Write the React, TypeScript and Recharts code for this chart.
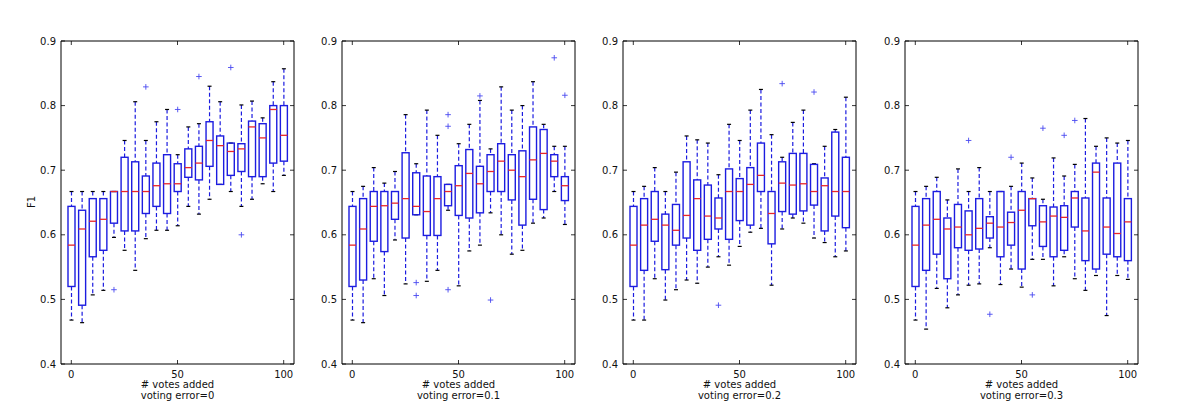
import { ComposedChart, Bar, XAxis, YAxis } from "recharts";

// x positions: number of votes added
const positions = [0, 5, 10, 15, 20, 25, 30, 35, 40, 45, 50, 55, 60, 65, 70, 75, 80, 85, 90, 95, 100];
const yTicks = [0.4, 0.5, 0.6, 0.7, 0.8, 0.9];
const errorLabels = ["voting error=0", "voting error=0.1", "voting error=0.2", "voting error=0.3"];

// voting error = 0
const high0 = [0.667, 0.667, 0.667, 0.667, 0.667, 0.746, 0.806, 0.746, 0.775, 0.794, 0.724, 0.767, 0.772, 0.83, 0.806, 0.742, 0.801, 0.807, 0.781, 0.837, 0.857];
const q3_0 = [0.644, 0.638, 0.656, 0.656, 0.667, 0.72, 0.713, 0.691, 0.711, 0.724, 0.71, 0.733, 0.737, 0.775, 0.753, 0.742, 0.741, 0.776, 0.772, 0.8, 0.8];
const med0 = [0.584, 0.609, 0.621, 0.624, 0.667, 0.667, 0.667, 0.667, 0.676, 0.679, 0.679, 0.704, 0.711, 0.746, 0.738, 0.729, 0.733, 0.767, 0.75, 0.794, 0.754];
const q1_0 = [0.52, 0.491, 0.566, 0.576, 0.618, 0.606, 0.606, 0.633, 0.644, 0.633, 0.667, 0.689, 0.685, 0.706, 0.678, 0.692, 0.698, 0.69, 0.69, 0.711, 0.714];
const low0 = [0.468, 0.464, 0.507, 0.514, 0.596, 0.576, 0.545, 0.594, 0.607, 0.607, 0.614, 0.644, 0.632, 0.655, 0.678, 0.667, 0.644, 0.655, 0.679, 0.667, 0.692];
const out0 = [[20, 0.515], [35, 0.829], [50, 0.794], [60, 0.845], [75, 0.859], [80, 0.6]];

// voting error = 0.1
const high1 = [0.667, 0.675, 0.704, 0.68, 0.698, 0.786, 0.71, 0.793, 0.754, 0.678, 0.741, 0.771, 0.808, 0.733, 0.829, 0.793, 0.8, 0.837, 0.771, 0.737, 0.737];
const q3_1 = [0.644, 0.656, 0.667, 0.667, 0.667, 0.727, 0.696, 0.691, 0.69, 0.678, 0.707, 0.732, 0.706, 0.724, 0.741, 0.724, 0.73, 0.767, 0.763, 0.724, 0.69];
const med1 = [0.584, 0.609, 0.644, 0.645, 0.649, 0.656, 0.644, 0.636, 0.656, 0.667, 0.676, 0.695, 0.679, 0.698, 0.714, 0.7, 0.69, 0.716, 0.726, 0.714, 0.676];
const q1_1 = [0.52, 0.53, 0.59, 0.574, 0.624, 0.595, 0.631, 0.599, 0.599, 0.645, 0.63, 0.626, 0.634, 0.667, 0.667, 0.654, 0.615, 0.655, 0.639, 0.69, 0.653];
const low1 = [0.468, 0.464, 0.532, 0.506, 0.592, 0.524, 0.631, 0.528, 0.545, 0.638, 0.521, 0.575, 0.584, 0.634, 0.6, 0.57, 0.576, 0.618, 0.626, 0.667, 0.616];
const out1 = [[30, 0.526], [30, 0.506], [45, 0.786], [45, 0.768], [45, 0.515], [60, 0.815], [65, 0.499], [95, 0.874], [100, 0.816]];

// voting error = 0.2
const high2 = [0.667, 0.675, 0.704, 0.667, 0.697, 0.753, 0.747, 0.742, 0.693, 0.771, 0.746, 0.793, 0.825, 0.755, 0.72, 0.774, 0.793, 0.71, 0.737, 0.763, 0.813];
const q3_2 = [0.644, 0.656, 0.667, 0.632, 0.647, 0.713, 0.685, 0.677, 0.657, 0.702, 0.687, 0.704, 0.742, 0.667, 0.713, 0.726, 0.726, 0.709, 0.688, 0.759, 0.72];
const med2 = [0.584, 0.615, 0.624, 0.615, 0.607, 0.63, 0.656, 0.629, 0.626, 0.667, 0.667, 0.678, 0.692, 0.633, 0.68, 0.677, 0.679, 0.667, 0.676, 0.667, 0.667];
const q1_2 = [0.52, 0.545, 0.59, 0.546, 0.584, 0.595, 0.576, 0.593, 0.609, 0.593, 0.622, 0.615, 0.667, 0.586, 0.636, 0.632, 0.637, 0.646, 0.606, 0.629, 0.611];
const low2 = [0.468, 0.468, 0.532, 0.499, 0.515, 0.53, 0.525, 0.55, 0.566, 0.553, 0.582, 0.604, 0.61, 0.522, 0.609, 0.626, 0.618, 0.595, 0.588, 0.566, 0.575];
const out2 = [[40, 0.491], [70, 0.834], [85, 0.821]];

// voting error = 0.3
const high3 = [0.667, 0.675, 0.689, 0.654, 0.702, 0.667, 0.704, 0.667, 0.667, 0.675, 0.711, 0.688, 0.655, 0.719, 0.691, 0.709, 0.78, 0.737, 0.75, 0.742, 0.746];
const q3_3 = [0.644, 0.656, 0.667, 0.626, 0.647, 0.637, 0.656, 0.628, 0.667, 0.635, 0.667, 0.656, 0.645, 0.643, 0.645, 0.667, 0.657, 0.711, 0.657, 0.711, 0.656];
const med3 = [0.584, 0.615, 0.624, 0.609, 0.612, 0.6, 0.61, 0.618, 0.612, 0.619, 0.638, 0.656, 0.62, 0.629, 0.627, 0.657, 0.606, 0.697, 0.612, 0.602, 0.62];
const q1_3 = [0.52, 0.545, 0.57, 0.532, 0.58, 0.576, 0.578, 0.595, 0.566, 0.584, 0.547, 0.614, 0.582, 0.566, 0.576, 0.612, 0.56, 0.547, 0.57, 0.566, 0.56];
const low3 = [0.468, 0.454, 0.517, 0.487, 0.507, 0.522, 0.524, 0.58, 0.523, 0.547, 0.519, 0.562, 0.562, 0.521, 0.566, 0.532, 0.514, 0.537, 0.475, 0.537, 0.531];
const out3 = [[25, 0.746], [35, 0.477], [45, 0.72], [55, 0.507], [60, 0.765], [70, 0.754], [75, 0.777]];

const series = [
  { high: high0, q3: q3_0, med: med0, q1: q1_0, low: low0, out: out0 },
  { high: high1, q3: q3_1, med: med1, q1: q1_1, low: low1, out: out1 },
  { high: high2, q3: q3_2, med: med2, q1: q1_2, low: low2, out: out2 },
  { high: high3, q3: q3_3, med: med3, q1: q1_3, low: low3, out: out3 },
];

const panelLeft = [61, 342, 623, 905];
const FONT = "DejaVu Sans, sans-serif";
const BLUE = "#1c1ce0";

type Row = {
  pos: number;
  low: number;
  q1: number;
  med: number;
  q3: number;
  high: number;
  range: [number, number];
  out: number[];
};

function buildRows(s: (typeof series)[number]): Row[] {
  return positions.map((pos, i) => ({
    pos,
    low: s.low[i],
    q1: s.q1[i],
    med: s.med[i],
    q3: s.q3[i],
    high: s.high[i],
    range: [s.low[i], s.high[i]],
    out: s.out.filter((o) => o[0] === pos).map((o) => o[1]),
  }));
}

function BoxShape(props: any) {
  const { x, y, width, height, payload } = props;
  if (!payload || height == null) return <g />;
  const top = Math.min(y, y + height);
  const h = Math.abs(height);
  const span = payload.high - payload.low;
  // linear map between the pixel ends the bar scale gave for [low, high]
  const py = (v: number) => top + ((payload.high - v) / span) * h;
  const cx = x + width / 2;
  const cap = width / 3.5;
  return (
    <g>
      <line x1={cx} x2={cx} y1={py(payload.high)} y2={py(payload.q3)} stroke={BLUE} strokeWidth={1.2} strokeDasharray="4 2.5" />
      <line x1={cx} x2={cx} y1={py(payload.q1)} y2={py(payload.low)} stroke={BLUE} strokeWidth={1.2} strokeDasharray="4 2.5" />
      <line x1={cx - cap} x2={cx + cap} y1={py(payload.high)} y2={py(payload.high)} stroke="#000" strokeWidth={1.2} />
      <line x1={cx - cap} x2={cx + cap} y1={py(payload.low)} y2={py(payload.low)} stroke="#000" strokeWidth={1.2} />
      <rect x={x} y={py(payload.q3)} width={width} height={py(payload.q1) - py(payload.q3)} fill="none" stroke={BLUE} strokeWidth={1.4} />
      <line x1={x} x2={x + width} y1={py(payload.med)} y2={py(payload.med)} stroke="#e8262a" strokeWidth={1.3} />
      {payload.out.map((v: number, k: number) => (
        <g key={k} stroke="#4a4af0" strokeWidth={0.9}>
          <line x1={cx - 2.8} x2={cx + 2.8} y1={py(v)} y2={py(v)} />
          <line x1={cx} x2={cx} y1={py(v) - 2.8} y2={py(v) + 2.8} />
        </g>
      ))}
    </g>
  );
}

function BottomTick({ x, y, payload }: any) {
  return (
    <g>
      <line x1={x} x2={x} y1={y} y2={y - 4} stroke="#000" strokeWidth={0.8} />
      <text x={x} y={y + 13.5} textAnchor="middle" fontSize={10} fontFamily={FONT} fill="#111">
        {payload.value}
      </text>
    </g>
  );
}

function TopTick({ x, y }: any) {
  return <line x1={x} x2={x} y1={y} y2={y + 4} stroke="#000" strokeWidth={0.8} />;
}

function LeftTick({ x, y, payload }: any) {
  return (
    <g>
      <line x1={x} x2={x + 4} y1={y} y2={y} stroke="#000" strokeWidth={0.8} />
      <text x={x - 5} y={y + 3.6} textAnchor="end" fontSize={10} fontFamily={FONT} fill="#111">
        {Number(payload.value).toFixed(1)}
      </text>
    </g>
  );
}

function RightTick({ x, y }: any) {
  return <line x1={x} x2={x - 4} y1={y} y2={y} stroke="#000" strokeWidth={0.8} />;
}

function Panel({ rows }: { rows: Row[] }) {
  const axisProps = {
    axisLine: { stroke: "#000", strokeWidth: 1 },
    tickLine: false,
    tickSize: 0,
    tickMargin: 0,
  };
  return (
    <ComposedChart width={279} height={405} data={rows} margin={{ top: 40, right: 5, bottom: 0, left: 0 }}>
      <XAxis dataKey="pos" type="category" interval={9} height={41} padding={{ left: 5, right: 5 }} tick={<BottomTick />} {...axisProps} />
      <XAxis xAxisId="top" dataKey="pos" type="category" orientation="top" interval={9} height={1} padding={{ left: 5, right: 5 }} tick={<TopTick />} {...axisProps} />
      <YAxis type="number" domain={[0.4, 0.9]} ticks={yTicks} allowDataOverflow width={40} tick={<LeftTick />} {...axisProps} />
      <YAxis yAxisId="right" orientation="right" type="number" domain={[0.4, 0.9]} ticks={yTicks} allowDataOverflow width={1} tick={<RightTick />} {...axisProps} />
      <Bar dataKey="range" barSize={7} shape={BoxShape} isAnimationActive={false} />
    </ComposedChart>
  );
}

export default function App() {
  return (
    <div style={{ position: "absolute", left: 0, top: 0, width: 1200, height: 405, background: "#fff" }}>
      {series.map((s, i) => (
        <div key={i} style={{ position: "absolute", left: panelLeft[i] - 40, top: 0 }}>
          <Panel rows={buildRows(s)} />
        </div>
      ))}
      <svg width={1200} height={405} style={{ position: "absolute", left: 0, top: 0, pointerEvents: "none" }}>
        <text x={35} y={202} transform="rotate(-90 35 202)" textAnchor="middle" fontSize={10} fontFamily={FONT} fill="#111">
          F1
        </text>
        {panelLeft.map((l, i) => (
          <g key={i}>
            <text x={l + 116.5} y={388} textAnchor="middle" fontSize={10} fontFamily={FONT} fill="#111">
              # votes added
            </text>
            <text x={l + 116.5} y={398.5} textAnchor="middle" fontSize={10} fontFamily={FONT} fill="#111">
              {errorLabels[i]}
            </text>
          </g>
        ))}
      </svg>
    </div>
  );
}
